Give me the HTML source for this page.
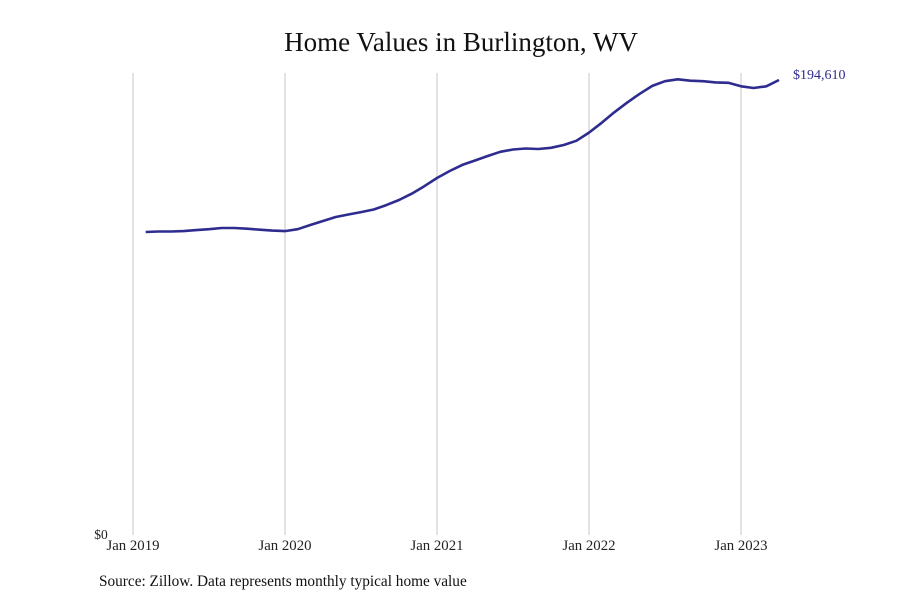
<!DOCTYPE html>
<html><head><meta charset="utf-8">
<style>
body{margin:0;background:#fff;}
svg{display:block;font-family:"Liberation Serif",serif;}
</style></head>
<body>
<svg id="chart" width="900" height="600">
<text x="461" y="51" text-anchor="middle" font-size="27" fill="#111">Home Values in Burlington, WV</text>
<g id="grid"></g>
<g id="xlabels"></g>
<text x="101" y="539" text-anchor="middle" font-size="13.5" fill="#222">$0</text>
<path id="line" fill="none" stroke="#2e2c8f" stroke-width="2.6" stroke-linejoin="round"></path>
<text id="endlabel" font-size="14" fill="#2e2c8f"></text>
<text x="99" y="586" font-size="15.3" fill="#111">Source: Zillow. Data represents monthly typical home value</text>
</svg>
<script>
const tickLabels=["Jan 2019","Jan 2020","Jan 2021","Jan 2022","Jan 2023"];
const startMonth=1; // Feb 2019 index from Jan 2019
const values=[129.6,129.8,129.8,130.0,130.4,130.8,131.3,131.3,131.0,130.6,130.2,130.0,130.8,132.6,134.3,136.0,137.1,138.1,139.2,141.1,143.3,146.0,149.2,152.7,155.7,158.3,160.2,162.1,163.9,164.9,165.3,165.1,165.6,166.8,168.6,172.1,176.3,180.8,184.9,188.7,192.1,194.1,194.9,194.3,194.1,193.6,193.4,191.9,191.2,191.9,194.61];
const latestLabel="$194,610";
const x0=133,yearW=152,y0=535,yTop=80,vTop=194.61;
const xs=m=>x0+m*yearW/12;
const ys=v=>y0-v*(y0-yTop)/vTop;
const ns="http://www.w3.org/2000/svg";
const grid=document.getElementById('grid'),xl=document.getElementById('xlabels');
tickLabels.forEach((t,i)=>{
 const l=document.createElementNS(ns,'line');
 
 
 const x=xs(i*12);
 l.setAttribute('x1',x);l.setAttribute('x2',x);l.setAttribute('y1',73);l.setAttribute('y2',535);
 l.setAttribute('stroke','#c4c4c4');l.setAttribute('stroke-width','1');
 grid.appendChild(l);
 const tx=document.createElementNS(ns,'text');
 
 
 tx.setAttribute('x',x);tx.setAttribute('y',550);tx.setAttribute('text-anchor','middle');
 tx.setAttribute('font-size','14.8');tx.setAttribute('fill','#222');
 tx.textContent=t;xl.appendChild(tx);
});
let d='';
values.forEach((v,i)=>{d+=(i?'L':'M')+xs(startMonth+i).toFixed(1)+','+ys(v).toFixed(1);});
document.getElementById('line').setAttribute('d',d);
const el=document.getElementById('endlabel');
const li=values.length-1;
el.setAttribute('x',xs(startMonth+li)+14);
el.setAttribute('y',ys(values[li])-1);
el.textContent=latestLabel;
</script>
</body></html>
